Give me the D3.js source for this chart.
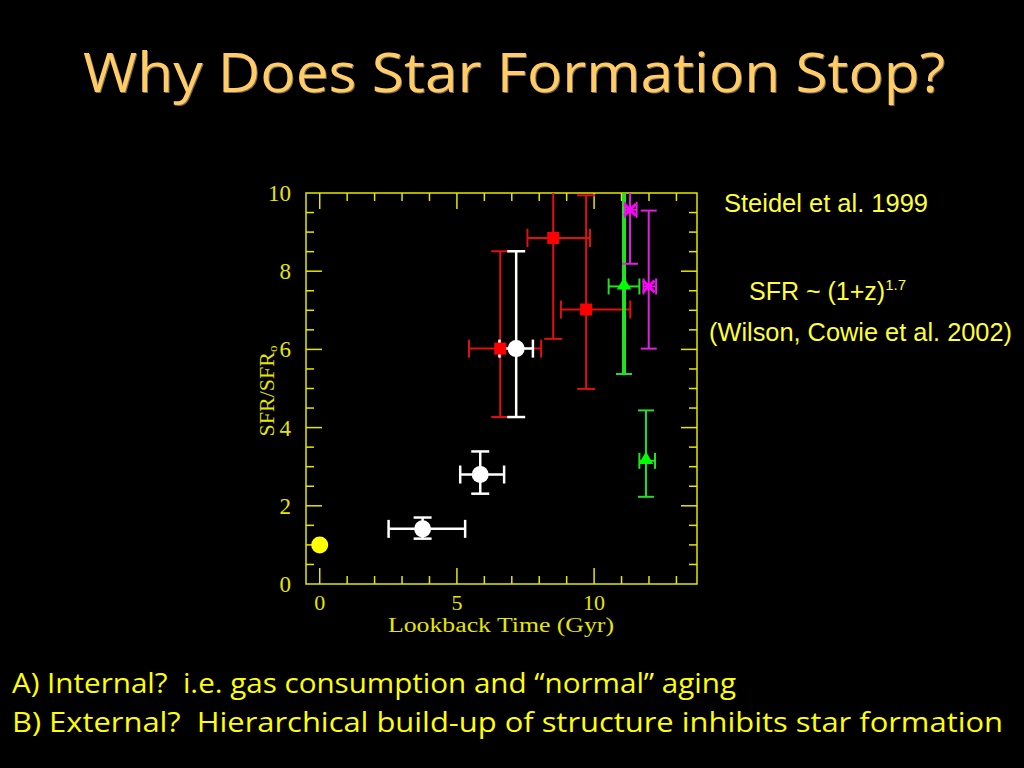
<!DOCTYPE html>
<html>
<head>
<meta charset="utf-8">
<script src="https://cdn.jsdelivr.net/npm/d3@7"></script>
<style>
  html, body { margin: 0; padding: 0; background: #000; }
</style>
</head>
<body>
<script>
// Width and height
var w = 1024;
var h = 768;

// data (x = lookback time in Gyr, y = SFR/SFR0)
var localX = [0];
var localY = [1];

var whiteX   = [3.75, 5.85, 7.16];
var whiteY   = [1.41, 2.80, 6.02];
var whiteXLo = [2.51, 5.12, 6.55];
var whiteXHi = [5.30, 6.72, 7.77];
var whiteYLo = [1.16, 2.31, 4.27];
var whiteYHi = [1.70, 3.39, 8.51];

var redX   = [6.58, 8.51, 9.71];
var redY   = [6.02, 8.85, 7.02];
var redXLo = [5.44, 7.57, 8.79];
var redXHi = [8.07, 9.85, 11.32];
var redYLo = [4.27, 6.27, 4.99];
var redYHi = [8.51, 10.6, 9.94];

var greenX   = [11.09, 11.89];
var greenY   = [7.61, 3.15];
var greenXLo = [10.53, 11.65];
var greenXHi = [11.65, 12.22];
var greenYLo = [5.37, 2.23];
var greenYHi = [10.8, 4.44];

var magX   = [11.31, 11.99];
var magY   = [9.57, 7.61];
var magXLo = [11.13, 11.80];
var magXHi = [11.55, 12.26];
var magYLo = [8.19, 6.02];
var magYHi = [10.5, 9.55];

var xMajor = [0, 5, 10];
var yMajor = [0, 2, 4, 6, 8, 10];

var bottomLines = [
  "A) Internal?  i.e. gas consumption and \u201cnormal\u201d aging",
  "B) External?  Hierarchical build-up of structure inhibits star formation"
];

var svg = d3.select("body")
  .append("svg")
  .attr("width", w)
  .attr("height", h)
  .style("background", "#000");

// title
svg.append("text")
  .attr("x", 83).attr("y", 92)
  .attr("font-family", "'Open Sans', sans-serif")
  .attr("font-size", "54px")
  .attr("font-weight", 500)
  .attr("fill", "#ffcc66")
  .style("filter", "drop-shadow(1.5px 1.5px 0px #7a6a55)")
  .attr("textLength", 862)
  .attr("lengthAdjust", "spacingAndGlyphs")
  .text("Why Does Star Formation Stop?");

// scales
var xScale = d3.scaleLinear().domain([-0.5, 13.75]).range([306, 697]);
var yScale = d3.scaleLinear().domain([0, 10]).range([584, 193]);

var axisCol = "#e6e600";
var plotFont = "'Liberation Serif', serif";

// frame
svg.append("rect")
  .attr("x", xScale(-0.5)).attr("y", yScale(10))
  .attr("width", xScale(13.75) - xScale(-0.5))
  .attr("height", yScale(0) - yScale(10))
  .attr("fill", "none")
  .attr("stroke", axisCol)
  .attr("stroke-width", 1.5);

// ticks drawn inward on all four sides
var xTicks = d3.range(0, 14, 1);
var yTicks = d3.range(0.5, 10, 0.5);
var tg = svg.append("g").attr("stroke", axisCol).attr("stroke-width", 1.5);

xTicks.forEach(function(t) {
  var len = xMajor.indexOf(t) >= 0 ? 16 : 8;
  tg.append("line").attr("x1", xScale(t)).attr("x2", xScale(t))
    .attr("y1", yScale(0)).attr("y2", yScale(0) - len);
  tg.append("line").attr("x1", xScale(t)).attr("x2", xScale(t))
    .attr("y1", yScale(10)).attr("y2", yScale(10) + len);
});
yTicks.forEach(function(t) {
  var len = yMajor.indexOf(t) >= 0 ? 16 : 8;
  tg.append("line").attr("y1", yScale(t)).attr("y2", yScale(t))
    .attr("x1", xScale(-0.5)).attr("x2", xScale(-0.5) + len);
  tg.append("line").attr("y1", yScale(t)).attr("y2", yScale(t))
    .attr("x1", xScale(13.75)).attr("x2", xScale(13.75) - len);
});

// tick labels
svg.selectAll(".ylab")
  .data(yMajor)
  .enter().append("text")
  .attr("x", 291)
  .attr("y", function(d) { return yScale(d) + 8; })
  .attr("text-anchor", "end")
  .attr("font-family", plotFont)
  .attr("font-size", "23px")
  .attr("fill", axisCol)
  .text(function(d) { return d; });

svg.selectAll(".xlab")
  .data(xMajor)
  .enter().append("text")
  .attr("x", function(d) { return xScale(d); })
  .attr("y", 610)
  .attr("text-anchor", "middle")
  .attr("font-family", plotFont)
  .attr("font-size", "22px")
  .attr("fill", axisCol)
  .text(function(d) { return d; });

// axis titles
svg.append("text")
  .attr("x", 388).attr("y", 632)
  .attr("font-family", plotFont)
  .attr("font-size", "20px")
  .attr("fill", axisCol)
  .attr("textLength", 226)
  .attr("lengthAdjust", "spacingAndGlyphs")
  .text("Lookback Time (Gyr)");

var yt = svg.append("text")
  .attr("transform", "translate(274,391) rotate(-90)")
  .attr("text-anchor", "middle")
  .attr("font-family", plotFont)
  .attr("font-size", "22px")
  .attr("fill", axisCol);
yt.append("tspan").text("SFR/SFR");
yt.append("tspan").attr("font-size", "13px").attr("dy", 3).text("o");

// clip to the plot box
svg.append("clipPath").attr("id", "plotclip")
  .append("rect")
  .attr("x", xScale(-0.5)).attr("y", yScale(10))
  .attr("width", xScale(13.75) - xScale(-0.5))
  .attr("height", yScale(0) - yScale(10));

var plot = svg.append("g").attr("clip-path", "url(#plotclip)");

function errorBars(xs, ys, xlo, xhi, ylo, yhi, col, sw, cap, swV) {
  var g = plot.append("g").attr("stroke", col).attr("fill", "none");
  xs.forEach(function(d, i) {
    var vw = swV ? swV[i] : sw;
    // vertical
    g.append("line")
      .attr("x1", xScale(d)).attr("x2", xScale(d))
      .attr("y1", yScale(ylo[i])).attr("y2", yScale(yhi[i]))
      .attr("stroke-width", vw);
    [ylo[i], yhi[i]].forEach(function(v) {
      g.append("line")
        .attr("x1", xScale(d) - cap).attr("x2", xScale(d) + cap)
        .attr("y1", yScale(v)).attr("y2", yScale(v))
        .attr("stroke-width", sw);
    });
    // horizontal
    g.append("line")
      .attr("x1", xScale(xlo[i])).attr("x2", xScale(xhi[i]))
      .attr("y1", yScale(ys[i])).attr("y2", yScale(ys[i]))
      .attr("stroke-width", sw);
    [xlo[i], xhi[i]].forEach(function(v) {
      g.append("line")
        .attr("x1", xScale(v)).attr("x2", xScale(v))
        .attr("y1", yScale(ys[i]) - cap).attr("y2", yScale(ys[i]) + cap)
        .attr("stroke-width", sw);
    });
  });
}

errorBars(redX, redY, redXLo, redXHi, redYLo, redYHi, "#e01010", 2, 9);
errorBars(whiteX, whiteY, whiteXLo, whiteXHi, whiteYLo, whiteYHi, "#ffffff", 2.5, 9);
errorBars(greenX, greenY, greenXLo, greenXHi, greenYLo, greenYHi, "#22e022", 2, 8, [4, 2]);
errorBars(magX, magY, magXLo, magXHi, magYLo, magYHi, "#e020e0", 2, 8);

// markers
plot.selectAll(".local")
  .data(localX)
  .enter().append("circle")
  .attr("cx", function(d) { return xScale(d); })
  .attr("cy", function(d, i) { return yScale(localY[i]); })
  .attr("r", 8.5)
  .attr("fill", "#ffff00");

plot.selectAll(".wdot")
  .data(whiteX)
  .enter().append("circle")
  .attr("cx", function(d) { return xScale(d); })
  .attr("cy", function(d, i) { return yScale(whiteY[i]); })
  .attr("r", 8.5)
  .attr("fill", "#ffffff");

plot.selectAll(".rsq")
  .data(redX)
  .enter().append("rect")
  .attr("x", function(d) { return xScale(d) - 6; })
  .attr("y", function(d, i) { return yScale(redY[i]) - 6; })
  .attr("width", 12).attr("height", 12)
  .attr("fill", "#ff0000");

plot.selectAll(".gtri")
  .data(greenX)
  .enter().append("path")
  .attr("transform", function(d, i) {
    return "translate(" + xScale(d) + "," + (yScale(greenY[i]) - 1) + ")";
  })
  .attr("d", d3.symbol().type(d3.symbolTriangle).size(90))
  .attr("fill", "#00ff00");

plot.selectAll(".mstar")
  .data(magX)
  .enter().append("path")
  .attr("transform", function(d, i) {
    return "translate(" + xScale(d) + "," + yScale(magY[i]) + ")";
  })
  .attr("d", d3.symbol().type(d3.symbolTimes).size(90))
  .attr("fill", "none")
  .attr("stroke", "#ff00ff")
  .attr("stroke-width", 3);

// side notes
var sideFont = "'Liberation Sans', Arial, sans-serif";
svg.append("text")
  .attr("x", 724).attr("y", 212)
  .attr("font-family", sideFont).attr("font-size", "25px")
  .attr("fill", "#ffff33")
  .attr("textLength", 204)
  .attr("lengthAdjust", "spacingAndGlyphs")
  .text("Steidel et al. 1999");

var sfr = svg.append("text")
  .attr("x", 749).attr("y", 300)
  .attr("font-family", sideFont).attr("font-size", "25px")
  .attr("fill", "#ffff33");
sfr.append("tspan").text("SFR ~ (1+z)");
sfr.append("tspan").attr("font-size", "15px").attr("dy", -10).text("1.7");

svg.append("text")
  .attr("x", 709).attr("y", 341)
  .attr("font-family", sideFont).attr("font-size", "25px")
  .attr("fill", "#ffff33")
  .attr("textLength", 303)
  .attr("lengthAdjust", "spacingAndGlyphs")
  .text("(Wilson, Cowie et al. 2002)");

// bottom questions (keep the double spaces)
svg.selectAll(".q")
  .data(bottomLines)
  .enter().append("text")
  .attr("x", 12)
  .attr("y", function(d, i) { return 693 + i * 39; })
  .attr("font-family", "'Open Sans', sans-serif")
  .attr("font-size", "27px")
  .attr("fill", "#ffff00")
  .style("white-space", "pre")
  .attr("textLength", function(d, i) { return i === 0 ? 724 : 991; })
  .attr("lengthAdjust", "spacingAndGlyphs")
  .text(function(d) { return d; });
</script>
</body>
</html>
